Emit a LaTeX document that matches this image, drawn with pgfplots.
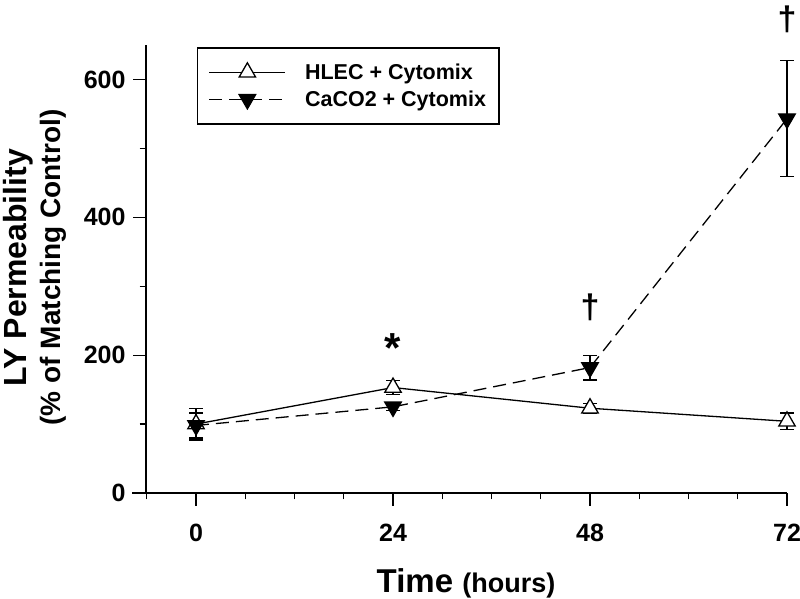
\documentclass[border=0pt]{standalone}
\usepackage{fontspec}
\setmainfont{Liberation Sans}
\usepackage{pgfplots}
\pgfplotsset{compat=1.18}

\pgfplotstableread{
x   y    e
0   100  23
24  153  10
48  123  7
72  104  12
}\hlec
\pgfplotstableread{
x   y    e
0   98   18
24  125  5
48  182  18
72  543  84
}\caco

\begin{document}
\begin{tikzpicture}[x=1pt,y=1pt]
\path[use as bounding box] (0,0) rectangle (800,599);
\begin{axis}[
  at={(132pt,106pt)}, anchor=south west,
  scale only axis, width=655pt, height=448pt,
  xmin=-7.8, xmax=72, ymin=0, ymax=650,
  axis x line*=bottom, axis y line*=left,
  axis y line shift=-14pt,
  axis line style={line width=1.6pt},
  tick align=outside,
  major tick length=13pt, minor tick length=6.5pt,
  every tick/.style={black, line width=1.3pt},
  xtick={0,24,48,72},
  minor xtick={-6,6,12,18,30,36,42,54,60,66},
  ytick={0,200,400,600},
  minor ytick={100,300,500},
  /pgf/number format/assume math mode=true,
  tick label style={font=\fontsize{25}{29}\selectfont\bfseries},
  xticklabel style={yshift=-15pt},
  yticklabel style={xshift=-4pt},
  clip=false,
  legend cell align=left,
  legend style={at={(rel axis cs:0.0992,0.9955)}, anchor=north west,
    draw=black, line width=1.5pt, inner xsep=11pt, inner ysep=14pt,
    row sep=6pt, nodes={inner sep=2pt},
    /tikz/every odd column/.append style={column sep=17pt},
    font=\fontsize{21.5}{25}\selectfont\bfseries},
  legend image code/.code={\draw[mark repeat=2,mark phase=2,#1]
    plot coordinates {(0pt,0pt) (38pt,0pt) (76pt,0pt)};},
]
\addplot[black, line width=1.3pt, mark=triangle*, mark size=9.5pt,
  mark options={fill=white, solid, line width=1.3pt},
  error bars/.cd, y dir=both, y explicit,
  error bar style={line width=1.3pt, solid},
  error mark options={rotate=90, mark size=7pt, line width=1.3pt, black}]
  table[x=x, y=y, y error=e] {\hlec};
\addlegendentry{HLEC + Cytomix}
\addplot[black, line width=1.3pt, dash pattern=on 13pt off 7pt,
  mark=triangle*, mark size=9.5pt,
  mark options={fill=black, solid, rotate=180},
  error bars/.cd, y dir=both, y explicit,
  error bar style={line width=1.3pt, solid},
  error mark options={rotate=90, mark size=7pt, line width=1.3pt, black}]
  table[x=x, y=y, y error=e] {\caco};
\addlegendentry{CaCO2 + Cytomix}
\node[font=\fontsize{42}{46}\selectfont\bfseries] at (axis cs:24,210) {*};
\node[font=\fontsize{34}{38}\selectfont\bfseries] at (axis cs:48,270) {†};
\node[font=\fontsize{34}{38}\selectfont\bfseries] at (axis cs:72,687) {†};
\end{axis}
\node[anchor=base] at (466pt,6pt)
  {\bfseries\fontsize{33}{38}\selectfont Time\ \fontsize{27}{31}\selectfont (hours)};
\node[anchor=base, rotate=90] at (26pt,331.5pt)
  {\bfseries\fontsize{32}{36}\selectfont LY Permeability};
\node[anchor=base, rotate=90] at (60pt,331.5pt)
  {\bfseries\fontsize{28}{32}\selectfont (\% of Matching Control)};
\end{tikzpicture}
\end{document}
